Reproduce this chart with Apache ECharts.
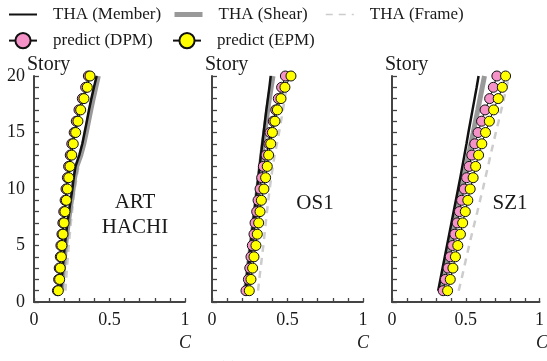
<!DOCTYPE html>
<html>
<head>
<meta charset="utf-8">
<script src="https://cdn.jsdelivr.net/npm/echarts@6/dist/echarts.min.js"></script>
<style>
  html, body { margin: 0; padding: 0; background: #fff; }
  #chart { width: 547px; height: 361px; }
</style>
</head>
<body>
<div id="chart"></div>
<script>
// story levels (y)
var stories = [1, 2, 3, 4, 5, 6, 7, 8, 9, 10, 11, 12, 13, 14, 15, 16, 17, 18, 19, 20];
var xTickLabels = ['0', '0.5', '1'];
var yTickLabels = ['0', '5', '10', '15', '20'];
var panelNames = [['ART', 'HACHI'], ['OS1'], ['SZ1']];

// ART HACHI
var member1 = [0.178, 0.184, 0.190, 0.197, 0.204, 0.212, 0.222, 0.232, 0.243, 0.254, 0.263, 0.275, 0.300, 0.320, 0.335, 0.350, 0.364, 0.380, 0.397, 0.415];
var shear1  = [0.182, 0.188, 0.195, 0.202, 0.209, 0.217, 0.227, 0.237, 0.248, 0.259, 0.269, 0.283, 0.310, 0.330, 0.346, 0.361, 0.376, 0.392, 0.409, 0.426];
var frame1  = [0.208, 0.213, 0.218, 0.224, 0.230, 0.237, 0.244, 0.252, 0.260, 0.270, 0.282, 0.295, 0.310, 0.322, 0.335, 0.350, 0.365, 0.382, 0.400, 0.420];
var dpm1    = [0.155, 0.163, 0.167, 0.174, 0.178, 0.185, 0.191, 0.197, 0.206, 0.212, 0.221, 0.229, 0.240, 0.250, 0.266, 0.280, 0.298, 0.320, 0.342, 0.360];
var epm1    = [0.161, 0.170, 0.174, 0.181, 0.185, 0.192, 0.199, 0.205, 0.214, 0.221, 0.230, 0.238, 0.250, 0.260, 0.276, 0.291, 0.309, 0.331, 0.353, 0.371];

// OS1
var member2 = [0.220, 0.229, 0.238, 0.246, 0.255, 0.264, 0.272, 0.281, 0.290, 0.298, 0.307, 0.316, 0.324, 0.333, 0.342, 0.351, 0.360, 0.370, 0.380, 0.389];
var shear2  = [0.222, 0.231, 0.240, 0.249, 0.258, 0.267, 0.276, 0.285, 0.294, 0.303, 0.312, 0.321, 0.330, 0.339, 0.349, 0.359, 0.369, 0.380, 0.392, 0.404];
var frame2  = [0.305, 0.313, 0.322, 0.331, 0.340, 0.348, 0.356, 0.364, 0.373, 0.382, 0.392, 0.403, 0.415, 0.430, 0.444, 0.457, 0.470, 0.482, 0.493, 0.503];
var dpm2    = [0.225, 0.241, 0.250, 0.258, 0.267, 0.278, 0.285, 0.296, 0.305, 0.318, 0.329, 0.340, 0.358, 0.377, 0.384, 0.406, 0.422, 0.439, 0.461, 0.486];
var epm2    = [0.247, 0.258, 0.269, 0.278, 0.291, 0.300, 0.309, 0.318, 0.327, 0.344, 0.355, 0.366, 0.375, 0.389, 0.400, 0.417, 0.433, 0.457, 0.483, 0.523];

// SZ1
var member3 = [0.313, 0.328, 0.343, 0.358, 0.373, 0.388, 0.403, 0.418, 0.433, 0.448, 0.463, 0.477, 0.491, 0.505, 0.518, 0.532, 0.546, 0.560, 0.574, 0.587];
var shear3  = [0.329, 0.345, 0.360, 0.376, 0.391, 0.407, 0.423, 0.439, 0.455, 0.471, 0.487, 0.503, 0.519, 0.535, 0.551, 0.566, 0.582, 0.597, 0.612, 0.627];
var frame3  = [0.452, 0.471, 0.488, 0.505, 0.523, 0.541, 0.560, 0.579, 0.597, 0.616, 0.633, 0.651, 0.668, 0.686, 0.704, 0.723, 0.741, 0.759, 0.777, 0.794];
var dpm3    = [0.347, 0.362, 0.380, 0.395, 0.411, 0.426, 0.442, 0.457, 0.472, 0.490, 0.506, 0.523, 0.541, 0.561, 0.583, 0.607, 0.631, 0.662, 0.687, 0.711];
var epm3    = [0.377, 0.395, 0.413, 0.430, 0.446, 0.464, 0.479, 0.497, 0.514, 0.530, 0.550, 0.567, 0.587, 0.609, 0.634, 0.660, 0.689, 0.720, 0.748, 0.770];

var panels = [
  { member: member1, shear: shear1, frame: frame1, dpm: dpm1, epm: epm1 },
  { member: member2, shear: shear2, frame: frame2, dpm: dpm2, epm: epm2 },
  { member: member3, shear: shear3, frame: frame3, dpm: dpm3, epm: epm3 }
];

var FONT = 'Liberation Serif';
var TXT = '#1a1a1a';
var PINK = '#f592c8';
var YELLOW = '#ffff00';
var C_MEMBER = '#111111', C_SHEAR = '#999999', C_FRAME = '#cccccc';

var gridLefts = [34, 212, 392];
var gridWidths = [151, 151, 150];
var gridTop = 76, gridHeight = 226;

function pairs(arr) {
  return arr.map(function (c, i) { return [c, stories[i]]; });
}

var grids = [], xAxes = [], yAxes = [], series = [], graphics = [];

panels.forEach(function (p, k) {
  grids.push({ left: gridLefts[k], top: gridTop, width: gridWidths[k], height: gridHeight });
  xAxes.push({
    type: 'value', gridIndex: k, min: 0, max: 1, interval: 0.1,
    axisLine: { lineStyle: { color: '#444', width: 2 } },
    axisTick: { inside: true, length: 4, lineStyle: { color: '#444', width: 1.3 } },
    splitLine: { show: false },
    axisLabel: {
      margin: 9, color: TXT, fontFamily: FONT, fontSize: 18,
      formatter: function (v) {
        var s = String(Math.round(v * 10) / 10);
        return xTickLabels.indexOf(s) >= 0 ? s : '';
      }
    }
  });
  yAxes.push({
    type: 'value', gridIndex: k, min: 0, max: 20, interval: 1,
    axisLine: { show: true, lineStyle: { color: '#444', width: 2 } },
    axisTick: { show: true, inside: true, length: 5, lineStyle: { color: '#444', width: 1.3 } },
    splitLine: { show: false },
    axisLabel: {
      show: k === 0, margin: 9, color: TXT, fontFamily: FONT, fontSize: 18,
      formatter: function (v) {
        var s = String(v);
        return yTickLabels.indexOf(s) >= 0 ? s : '';
      }
    }
  });

  series.push({
    name: 'THA (Frame)', type: 'line', xAxisIndex: k, yAxisIndex: k,
    data: pairs(p.frame), symbol: 'none', z: 2,
    itemStyle: { color: C_FRAME },
    lineStyle: { color: C_FRAME, width: 2.5, type: [7, 6] }
  });
  series.push({
    name: 'THA (Shear)', type: 'line', xAxisIndex: k, yAxisIndex: k,
    data: pairs(p.shear), symbol: 'none', z: 3,
    itemStyle: { color: C_SHEAR },
    lineStyle: { color: C_SHEAR, width: 5 }
  });
  series.push({
    name: 'THA (Member)', type: 'line', xAxisIndex: k, yAxisIndex: k,
    data: pairs(p.member), symbol: 'none', z: 4,
    itemStyle: { color: C_MEMBER },
    lineStyle: { color: C_MEMBER, width: 2.5 }
  });
  series.push({
    name: 'predict (DPM)', type: 'line', xAxisIndex: k, yAxisIndex: k,
    data: pairs(p.dpm), symbol: 'circle', symbolSize: 10, z: 5,
    lineStyle: { color: '#111', width: 1 },
    itemStyle: { color: PINK, borderColor: '#111', borderWidth: 1 }
  });
  series.push({
    name: 'predict (EPM)', type: 'line', xAxisIndex: k, yAxisIndex: k,
    data: pairs(p.epm), symbol: 'circle', symbolSize: 10, z: 6,
    lineStyle: { color: '#111', width: 1 },
    itemStyle: { color: YELLOW, borderColor: '#111', borderWidth: 1 }
  });

  // "Story" label above each y axis
  graphics.push({
    type: 'text', left: gridLefts[k] - 7, top: 55,
    style: { text: 'Story', font: '20px "Liberation Serif"', fill: TXT }
  });
  // "C" below each x axis end
  graphics.push({
    type: 'text', x: gridLefts[k] + gridWidths[k], y: 343,
    style: { text: 'C', font: 'italic 18px "Liberation Serif"', fill: TXT, textAlign: 'center', textVerticalAlign: 'middle' }
  });
});

// panel names
graphics.push({
  type: 'text', x: 135, y: 215,
  style: { text: panelNames[0].join('\n'), font: '21px "Liberation Serif"', fill: TXT, textAlign: 'center', textVerticalAlign: 'middle', lineHeight: 25 }
});
graphics.push({
  type: 'text', x: 315, y: 203,
  style: { text: panelNames[1][0], font: '21px "Liberation Serif"', fill: TXT, textAlign: 'center', textVerticalAlign: 'middle' }
});
graphics.push({
  type: 'text', x: 510, y: 203,
  style: { text: panelNames[2][0], font: '21px "Liberation Serif"', fill: TXT, textAlign: 'center', textVerticalAlign: 'middle' }
});
// caption, mostly below the visible area
graphics.push({
  type: 'text', x: 285, y: 360,
  style: { text: '(a) 20-story model', font: '18px "Liberation Serif"', fill: TXT, textAlign: 'center', textVerticalAlign: 'top' }
});

function legendAt(item, left, top, h) {
  return {
    data: [item], left: left, top: top, padding: 0,
    itemWidth: 28, itemHeight: h, selectedMode: false,
    textStyle: { fontFamily: FONT, fontSize: 17, color: TXT, padding: [0, 0, 0, 11] }
  };
}

var chart = echarts.init(document.getElementById('chart'));
chart.setOption({
  animation: false,
  backgroundColor: '#fff',
  textStyle: { fontFamily: FONT },
  legend: [
    legendAt({ name: 'THA (Member)', itemStyle: { opacity: 0 }, lineStyle: { width: 2 } }, 8, 6, 14),
    legendAt({ name: 'THA (Shear)', itemStyle: { opacity: 0 }, lineStyle: { width: 5 } }, 172, 6, 14),
    legendAt({ name: 'THA (Frame)', itemStyle: { opacity: 0 }, lineStyle: { width: 1.5 } }, 325, 6, 14),
    legendAt({ name: 'predict (DPM)' }, 8, 32, 19),
    legendAt({ name: 'predict (EPM)' }, 172, 32, 19)
  ],
  grid: grids,
  xAxis: xAxes,
  yAxis: yAxes,
  series: series,
  graphic: graphics
});
</script>
</body>
</html>
